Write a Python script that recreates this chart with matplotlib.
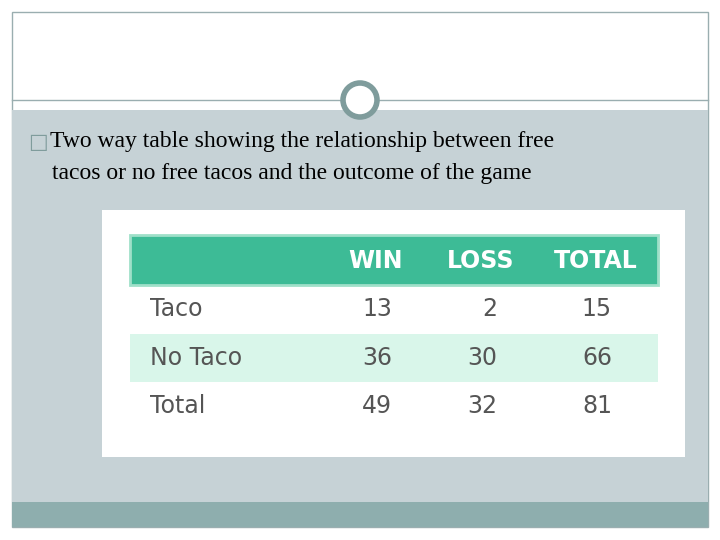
import matplotlib
matplotlib.use("Agg")
import matplotlib.pyplot as plt
from matplotlib.patches import Rectangle, Circle

# ── Data ──
columns = ["WIN", "LOSS", "TOTAL"]
row_labels = ["Taco", "No Taco", "Total"]
win = [13, 36, 49]
loss = [2, 30, 32]
total = [15, 66, 81]
title_lines = ["Two way table showing the relationship between free",
               "tacos or no free tacos and the outcome of the game"]

fig = plt.figure(figsize=(7.2, 5.4), dpi=100)
ax = fig.add_axes([0, 0, 1, 1])
ax.set_xlim(0, 720)
ax.set_ylim(540, 0)
ax.axis("off")

# slide background
ax.add_patch(Rectangle((12, 12), 696, 515, fc="white", ec="#9aaeb0", lw=1))
ax.add_patch(Rectangle((12, 110), 696, 392, fc="#c6d2d6", ec="none"))
ax.add_patch(Rectangle((12, 502), 696, 25, fc="#8eaeae", ec="none"))
ax.plot([12, 708], [100, 100], color="#9aaeb0", lw=1)
ax.add_patch(Circle((360, 100), 17, fc="white", ec="#7f9c9c", lw=4, zorder=3))

# title
ax.text(28, 142, "\u25a1", fontsize=15, color="#7f9c9c", va="center", family="DejaVu Sans")
ax.text(50, 142, title_lines[0], fontsize=17, family="Liberation Serif", va="center", color="black")
ax.text(52, 174, title_lines[1], fontsize=17, family="Liberation Serif", va="center", color="black")

# table
ax.add_patch(Rectangle((102, 210), 583, 247, fc="white", ec="none"))
ax.add_patch(Rectangle((130, 235), 528, 50, fc="#3dbb96", ec="#9fe0c9", lw=2))
ax.add_patch(Rectangle((130, 334), 528, 48, fc="#d9f6ea", ec="none"))

col_x = [376, 481, 596]
for x, c in zip(col_x, columns):
    ax.text(x, 261, c, fontsize=17, color="white", fontweight="bold", ha="center", va="center")

row_y = [309, 358, 406]
for y, lab, vals in zip(row_y, row_labels, zip(win, loss, total)):
    ax.text(150, y, lab, fontsize=17, color="#555555", va="center")
    for x, v in zip(col_x, vals):
        ax.text(x + 16, y, str(v), fontsize=17, color="#555555", ha="right", va="center")

fig.savefig("out.png", dpi=100)
